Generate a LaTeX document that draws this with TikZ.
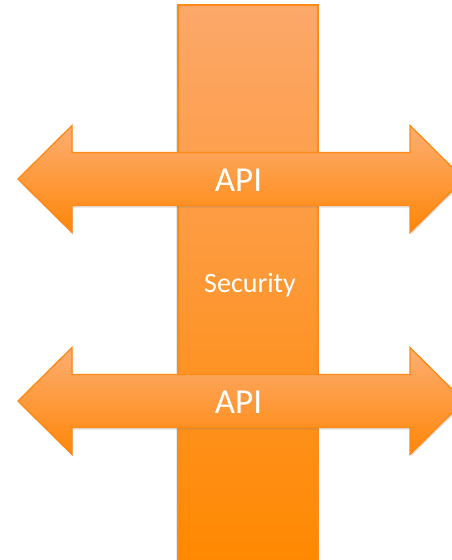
\documentclass[tikz,border=0pt]{standalone}
\usepackage{fontspec}
\setmainfont{Carlito}
\usetikzlibrary{shadows}
\definecolor{barTop}{RGB}{252,168,106}
\definecolor{barBottom}{RGB}{255,136,0}
\definecolor{arrowTop}{RGB}{252,174,114}
\definecolor{arrowBottom}{RGB}{255,134,8}
\definecolor{edgeOrange}{RGB}{255,138,20}

\begin{document}
\begin{tikzpicture}[x=1pt,y=-1pt,
  bar/.style={draw=edgeOrange, line width=1.3pt, top color=barTop, bottom color=barBottom,
    drop shadow={shadow xshift=-2pt, shadow yshift=0pt, opacity=.18}},
  api arrow/.style={draw=edgeOrange, line width=1.3pt, top color=arrowTop, bottom color=arrowBottom,
    drop shadow={shadow xshift=1pt, shadow yshift=-2pt, opacity=.25}},
  api label/.style={text=white, font=\fontsize{35}{42}\selectfont, inner sep=0pt},
  sec label/.style={text=white, font=\fontsize{28}{34}\selectfont, inner sep=0pt}]
  \useasboundingbox (0,0) rectangle (452,560);
  % Security column
  \draw[bar] (178,5) rectangle (318,566);
  \node[sec label] (sec) at (250,285) {Security};
  % API arrows
  \foreach \c/\n in {179/1, 401/2} {
    \draw[api arrow] (18,\c) -- (72,\c-53.5) -- (72,\c-26.5) -- (410,\c-26.5) -- (410,\c-53.5)
      -- (464,\c) -- (410,\c+53.5) -- (410,\c+26.5) -- (72,\c+26.5) -- (72,\c+53.5) -- cycle;
    \node[api label] (api\n) at (238.5,\c+1) {API};
  }
\end{tikzpicture}
\end{document}
